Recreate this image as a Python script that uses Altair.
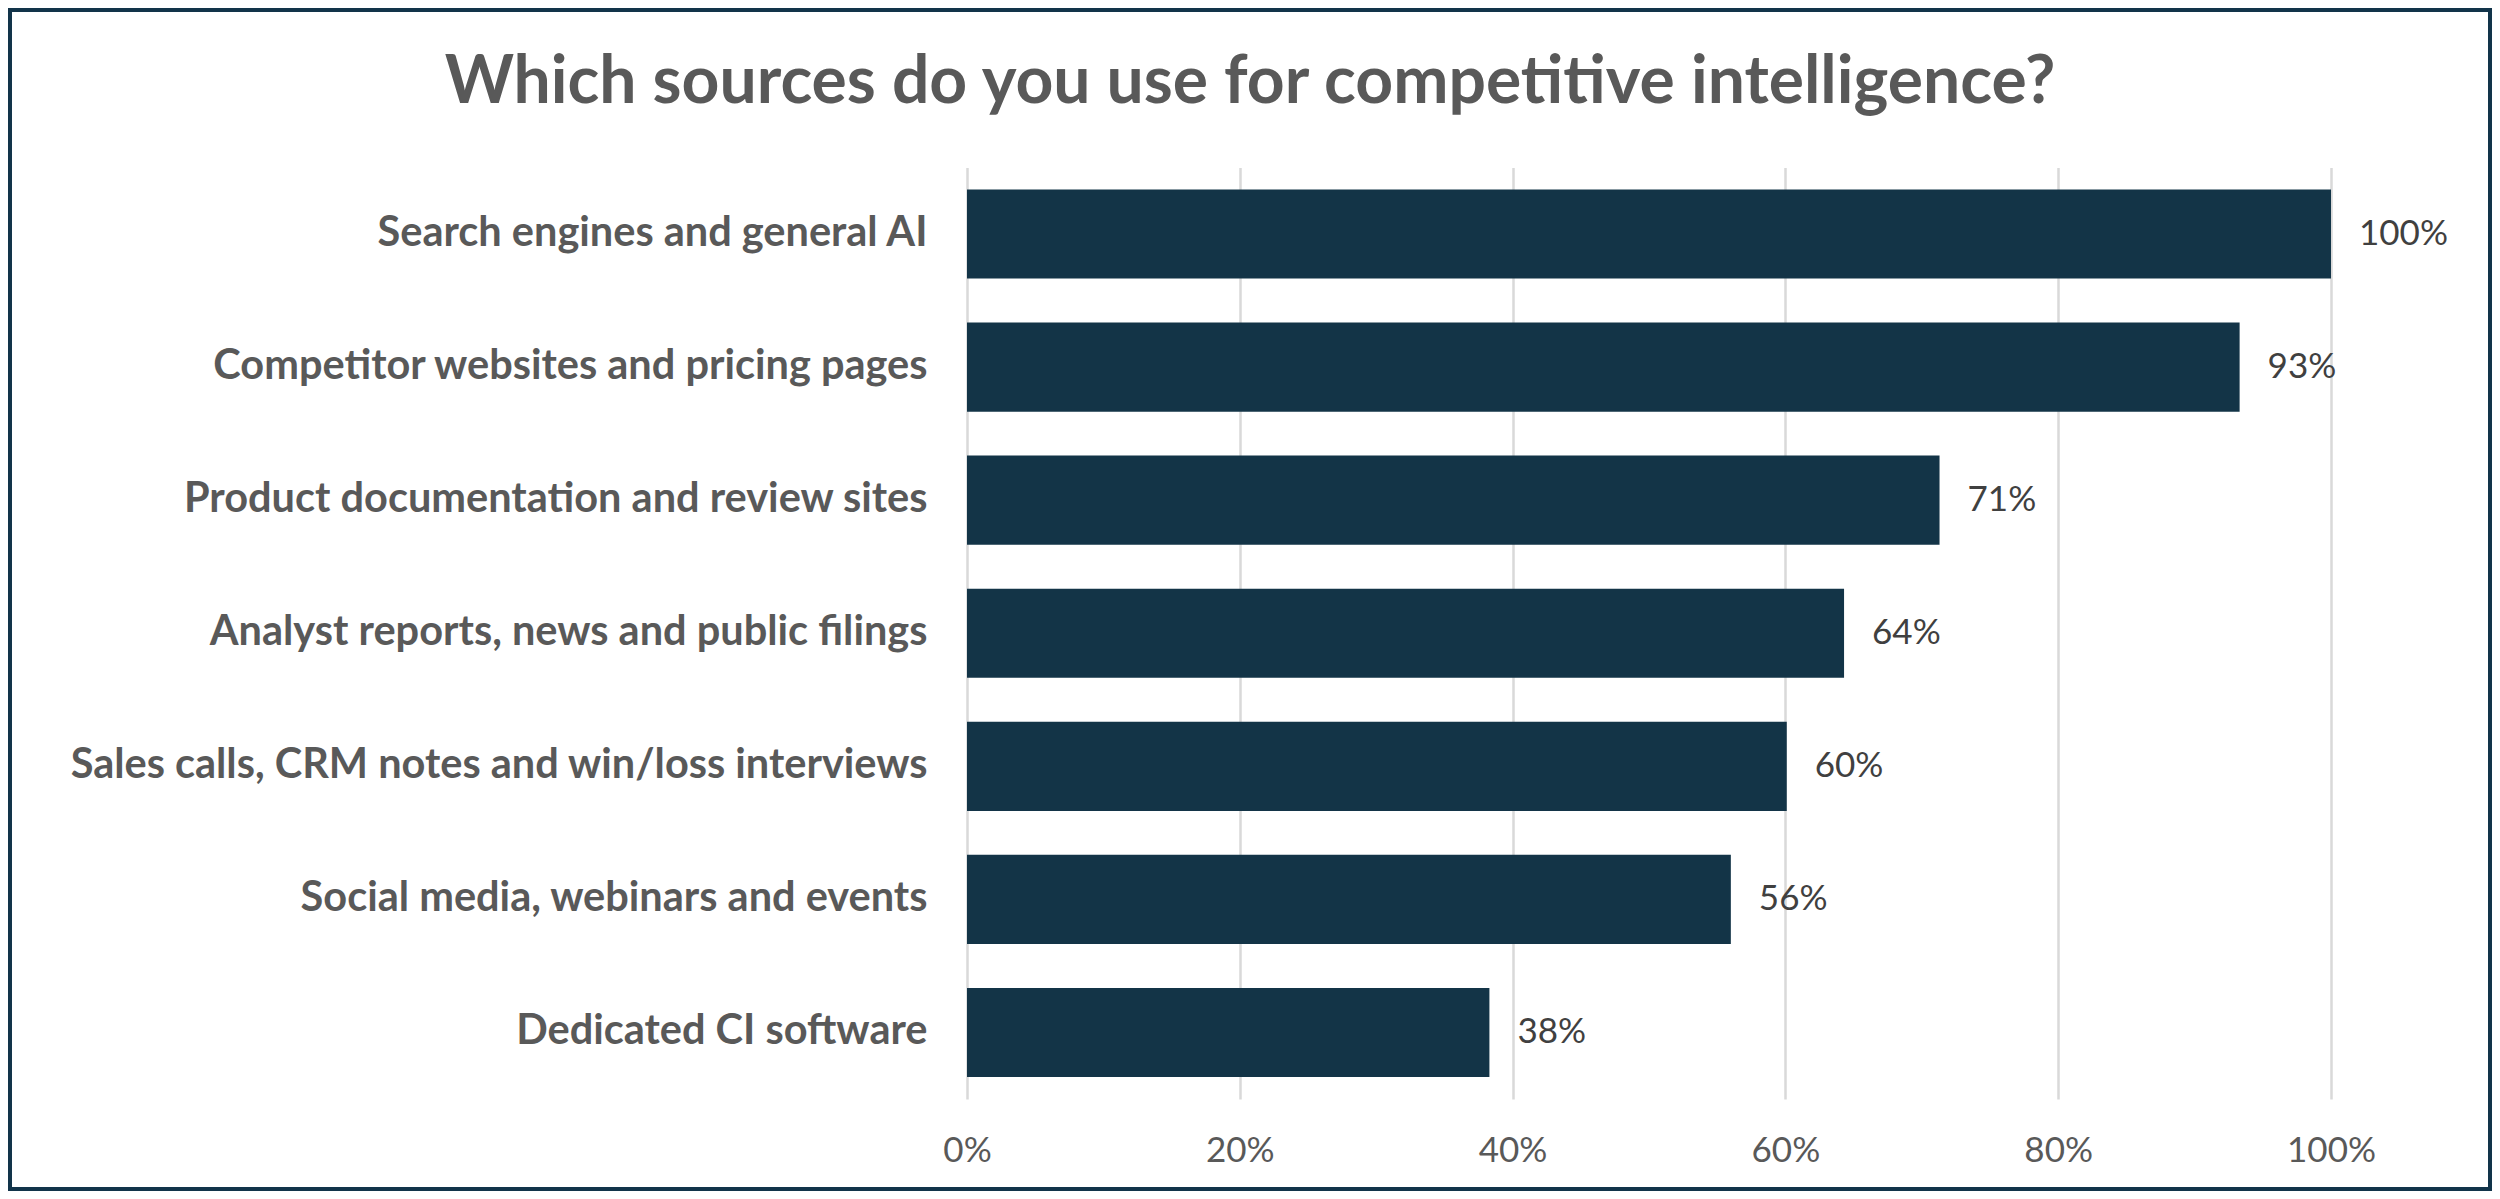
import altair as alt
import pandas as pd

categories = [
    "Search engines and general AI",
    "Competitor websites and pricing pages",
    "Product documentation and review sites",
    "Analyst reports, news and public filings",
    "Sales calls, CRM notes and win/loss interviews",
    "Social media, webinars and events",
    "Dedicated CI software",
]
shares = [1.0, 0.933, 0.713, 0.643, 0.601, 0.560, 0.383]
x_ticks = [0, 0.2, 0.4, 0.6, 0.8, 1.0]
title_text = "Which sources do you use for competitive intelligence?"

df = pd.DataFrame({"source": categories, "share": shares})

W, H = 1364, 931.5
PAD = {"left": 959, "top": 159.5, "right": 161, "bottom": 92}
BAR = "#133447"
TXT = "#595959"

y_enc = alt.Y(
    "source:N", sort=categories, title=None,
    scale=alt.Scale(paddingInner=0.33, paddingOuter=0.165),
    axis=alt.Axis(domain=False, ticks=False, grid=False, labelFont="Lato",
                  labelFontWeight="bold", labelFontSize=41.5, labelColor=TXT,
                  labelPadding=40, labelLimit=0),
)
x_enc = alt.X(
    "share:Q", title=None,
    scale=alt.Scale(domain=[0, 1], nice=False),
    axis=alt.Axis(values=x_ticks, format=".0%", domain=False, ticks=False,
                  grid=True, gridColor="#D9D9D9", gridWidth=2.5,
                  labelFont="Lato", labelFontSize=35, labelColor=TXT,
                  labelPadding=34, labelFlush=False),
)

base = alt.Chart(df)
bars = base.mark_bar(color=BAR).encode(x=x_enc, y=y_enc)
labels = base.mark_text(
    align="left", baseline="middle", dx=28, font="Lato", fontSize=35, color="#404040"
).encode(
    x="share:Q",
    y=alt.Y("source:N", sort=categories),
    text=alt.Text("share:Q", format=".0%"),
)
border = alt.Chart(pd.DataFrame({"k": [0]})).mark_rect(
    fillOpacity=0, stroke="#12344A", strokeWidth=4
).encode(
    x=alt.value(-957), x2=alt.value(W + 159),
    y=alt.value(-157.5), y2=alt.value(H + 90),
)

chart = alt.layer(border, bars, labels).properties(
    width=W, height=H, padding=PAD, autosize="none", background="white",
    title=alt.TitleParams(text=title_text, font="Lato", fontSize=66,
                          fontWeight="bold", color=TXT, anchor="middle",
                          frame="bounds", offset=-109),
).configure_view(stroke=None)

chart.save("out.html", embed_options={"renderer": "svg", "actions": False})
